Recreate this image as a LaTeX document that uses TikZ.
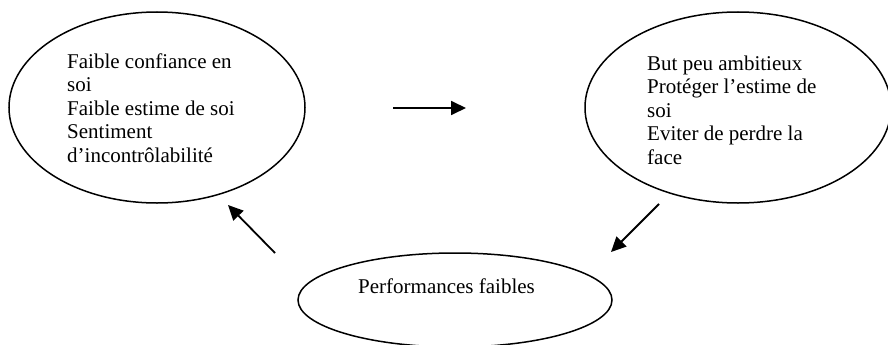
\documentclass[tikz,border=0pt]{standalone}
\usepackage{fontspec}
\setmainfont{Liberation Serif}
\usetikzlibrary{shapes.geometric,arrows.meta}

\tikzset{
  bubble/.style={ellipse, draw, line width=1.5pt, inner sep=0pt},
  % multi-line blurbs are placed by the baseline of their last line
  blurb/.style={anchor=base west, inner sep=0pt, align=left,
                font=\fontsize{21}{23.5}\selectfont},
  arr/.style={line width=1.8pt, -{Triangle[length=15pt,width=14pt]}}
}

\begin{document}
\begin{tikzpicture}[x=1pt,y=-1pt]
  \useasboundingbox (0,0) rectangle (888,345);
  \clip (0,0) rectangle (888,345);

  % the three states of the cycle
  \node[bubble, minimum width=296pt, minimum height=191pt] (conf) at (157,107.5) {};
  \node[bubble, minimum width=306pt, minimum height=191pt] (but) at (738,107.5) {};
  \node[bubble, minimum width=314pt, minimum height=94pt] (perf) at (455,300) {};

  \node[blurb] (confT) at (67,162)
    {Faible confiance en\\soi\\Faible estime de soi\\Sentiment\\d’incontrôlabilité};
  \node[blurb] (butT) at (647,164)
    {But peu ambitieux\\Protéger l’estime de\\soi\\Eviter de perdre la\\face};
  \node[blurb] (perfT) at (358,293) {Performances faibles};

  % arrow end points between the bubbles
  \coordinate (a1) at (393,108);
  \coordinate (b1) at (466,108);
  \coordinate (a2) at (659,204);
  \coordinate (b2) at (611,252);
  \coordinate (a3) at (275,253);
  \coordinate (b3) at (228,205);

  \draw[arr] (a1) -- (b1);
  \draw[arr] (a2) -- (b2);
  \draw[arr] (a3) -- (b3);
\end{tikzpicture}
\end{document}
